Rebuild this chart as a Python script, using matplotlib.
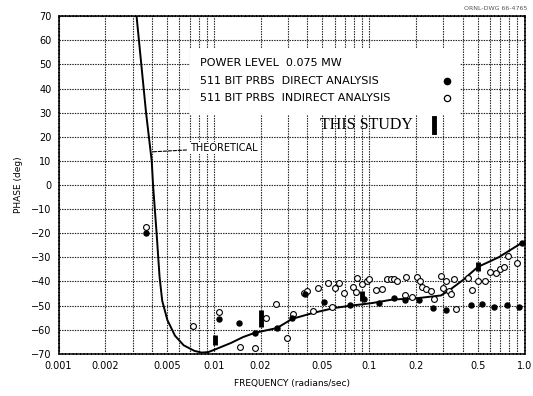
import matplotlib.pyplot as plt
from matplotlib.patches import Rectangle
from matplotlib.ticker import FixedLocator

# theoretical phase curve
theo_freq = [0.00318, 0.00366, 0.00398, 0.00406, 0.00428, 0.00447, 0.00465, 0.00502,
             0.00562, 0.0064, 0.0075, 0.00834, 0.0092, 0.0101, 0.0129, 0.0155, 0.0184,
             0.0255, 0.032, 0.0438, 0.0598, 0.077, 0.1035, 0.1416, 0.2, 0.29, 0.33,
             0.40, 0.5, 0.68, 0.96]
theo_phase = [70, 30, 10, 0, -20, -38, -48, -56, -62.5, -66.5, -68.8, -69.5, -69.3, -68.3,
              -65.5, -63, -61.3, -59.3, -55.5, -53, -51, -50, -49, -47.5, -47, -45.8,
              -43.5, -39.5, -34, -30, -24]

# 511 bit PRBS direct analysis
direct_freq = [0.00365, 0.0108, 0.0146, 0.0184, 0.0255, 0.032, 0.0385, 0.0508, 0.0758,
               0.0922, 0.115, 0.144, 0.171, 0.208, 0.256, 0.31, 0.45, 0.53, 0.632,
               0.767, 0.917, 0.97]
direct_phase = [-20, -55.5, -57.2, -61.3, -59.4, -55, -45, -48.4, -49.7, -47.2, -48.8,
                -46.8, -47.6, -47.6, -50.9, -51.7, -49.7, -49.2, -50.5, -49.7, -50.5, -24]

# 511 bit PRBS indirect analysis
indirect_freq = [0.00365, 0.00736, 0.0108, 0.01466, 0.0184, 0.0217, 0.025, 0.0296,
                 0.0325, 0.038, 0.0398, 0.0437, 0.0469, 0.0545, 0.0573, 0.0604, 0.0641,
                 0.0689, 0.0787, 0.0822, 0.0837, 0.0899, 0.097, 0.1, 0.111, 0.121,
                 0.131, 0.139, 0.145, 0.152, 0.169, 0.172, 0.188, 0.203, 0.212, 0.219,
                 0.232, 0.25, 0.261, 0.29, 0.298, 0.312, 0.327, 0.337, 0.352, 0.364,
                 0.432, 0.459, 0.501, 0.556, 0.6, 0.655, 0.695, 0.738, 0.78, 0.89]
indirect_phase = [-17.5, -58.6, -52.5, -67, -67.8, -55, -49.2, -63.4, -53.4, -44.7,
                  -43.8, -52.1, -42.6, -40.5, -50.5, -42.6, -40.5, -44.7, -42.2, -44.3,
                  -38.4, -40.9, -40, -38.8, -43.4, -43, -38.8, -38.8, -38.8, -40,
                  -45.5, -38, -46.3, -38, -40, -42.2, -43, -43.8, -47.2, -37.6, -42.6,
                  -39.7, -43.8, -45, -38.8, -51.3, -38.4, -43.4, -39.7, -40, -36.2,
                  -36.4, -34.7, -33.9, -29.5, -32.3]

# this study (vertical bars: low, high)
study_freq = [0.0101, 0.0201, 0.0895, 0.505]
study_low = [-66.5, -59, -48, -35.5]
study_high = [-62, -52, -44, -32]

tick_vals = [0.001, 0.002, 0.005, 0.01, 0.02, 0.05, 0.1, 0.2, 0.5, 1.0]
tick_labels = ['0.001', '0.002', '0.005', '0.01', '0.02', '0.05', '0.1', '0.2', '0.5', '1.0']
y_ticks = list(range(-70, 71, 10))

fig = plt.figure(figsize=(5.33, 3.96), dpi=100)
ax = fig.add_axes([0.1098, 0.1066, 0.8743, 0.8523])
ax.set_xscale('log')
ax.set_xlim(0.001, 1.0)
ax.set_ylim(-70, 70)

grid_x = [m * 10.0 ** e for e in (-3, -2, -1) for m in range(2, 10)]
ax.set_xticks(tick_vals)
ax.set_xticklabels(tick_labels)
ax.xaxis.set_minor_locator(FixedLocator(grid_x))
ax.set_yticks(y_ticks)
ax.tick_params(which='both', length=0, labelsize=7, pad=5)
ax.set_axisbelow(True)
ax.grid(which='both', color='#222222', linestyle=(0, (1.3, 1.0)), linewidth=0.8)
for s in ax.spines.values():
    s.set_linestyle((0, (1.6, 0.8)))
    s.set_linewidth(1.1)

# white legend area hides the grid
ax.add_patch(Rectangle((0.282, 0.707), 0.58, 0.199, transform=ax.transAxes,
                       facecolor='white', edgecolor='none', zorder=1))

ax.plot(theo_freq, theo_phase, color='black', linewidth=1.4, zorder=3)
ax.plot(indirect_freq, indirect_phase, 'o', markersize=4.2, markerfacecolor='white',
        markeredgecolor='black', markeredgewidth=0.8, zorder=4)
ax.plot(direct_freq, direct_phase, 'o', markersize=3.6, color='black', zorder=5)
ax.vlines(study_freq, study_low, study_high, color='black', linewidth=3.5, zorder=6)

# legend text
ax.text(0.3036, 0.862, 'POWER LEVEL  0.075 MW', transform=ax.transAxes,
        fontsize=8, va='center', zorder=7)
ax.text(0.3036, 0.809, '511 BIT PRBS  DIRECT ANALYSIS', transform=ax.transAxes,
        fontsize=8, va='center', zorder=7)
ax.text(0.3036, 0.758, '511 BIT PRBS  INDIRECT ANALYSIS', transform=ax.transAxes,
        fontsize=8, va='center', zorder=7)
ax.plot([0.834], [0.809], 'o', markersize=4.5, color='black', transform=ax.transAxes, zorder=7)
ax.plot([0.834], [0.758], 'o', markersize=4.5, markerfacecolor='white',
        markeredgecolor='black', markeredgewidth=0.9, transform=ax.transAxes, zorder=7)
ax.text(0.561, 0.678, 'THIS STUDY', transform=ax.transAxes, family='Liberation Serif',
        fontsize=11.5, va='center', zorder=7)
ax.plot([0.806, 0.806], [0.658, 0.700], color='black', linewidth=3.5,
        transform=ax.transAxes, zorder=7)

ax.annotate('THEORETICAL', xy=(0.196, 0.598), xytext=(0.282, 0.6098),
            xycoords='axes fraction', textcoords='axes fraction', fontsize=7,
            va='center', zorder=7,
            bbox=dict(facecolor='white', edgecolor='none', pad=0.5),
            arrowprops=dict(arrowstyle='-', color='black', linewidth=0.8,
                            linestyle=(0, (3, 1.5))))

ax.set_xlabel('FREQUENCY (radians/sec)', fontsize=6.5, labelpad=6)
ax.set_ylabel('PHASE (deg)', fontsize=6.5, labelpad=6)
fig.text(0.99, 0.985, 'ORNL-DWG 66-4765', ha='right', va='top', fontsize=4.5, color='#555555')

fig.savefig('out.png', dpi=100)
